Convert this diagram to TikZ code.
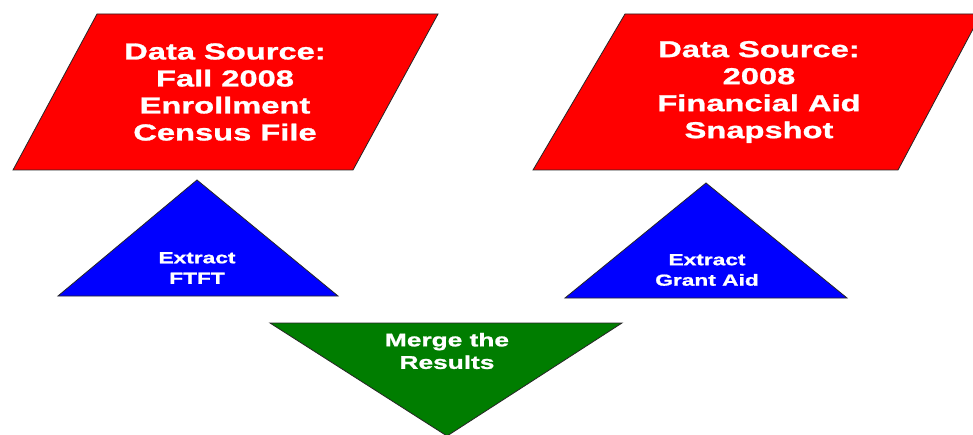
\documentclass[tikz,border=0pt]{standalone}
\usepackage{fontspec}
\newfontfamily\widesans{Liberation Sans}[FakeStretch=1.42,BoldFeatures={FakeBold=1.2}]
\begin{document}
\begin{tikzpicture}[x=1pt,y=-1pt,
  shapeline/.style={draw=black!85, line width=0.8pt, line join=miter},
  redfill/.style={shapeline, fill={rgb,255:red,255;green,0;blue,0}},
  bluefill/.style={shapeline, fill={rgb,255:red,0;green,0;blue,255}},
  greenfill/.style={shapeline, fill={rgb,255:red,0;green,125;blue,0}},
  lbl/.style={text=white, align=center, inner sep=0pt},
  bigtxt/.style={lbl, font=\widesans\bfseries\fontsize{23}{27}\selectfont},
  smalltxt/.style={lbl, font=\widesans\bfseries\fontsize{16}{20.5}\selectfont},
  midtxt/.style={lbl, font=\widesans\bfseries\fontsize{18.5}{22.5}\selectfont}]
\useasboundingbox (0,0) rectangle (973,435);
\clip (0,0) rectangle (973,435);
\fill[white] (0,0) rectangle (973,435);

% parallelograms
\draw[redfill] (97,14) -- (438,14) -- (353,170) -- (13,170) -- cycle;
\draw[redfill] (625,14) -- (981,14) -- (898,170) -- (533,170) -- cycle;

% triangles
\draw[bluefill] (197,180) -- (338,296) -- (58,296) -- cycle;
\draw[bluefill] (706,183) -- (847,298) -- (565,298) -- cycle;
\draw[greenfill] (270,323) -- (622,323) -- (447,436) -- cycle;

% labels
\node[bigtxt] (src1) at (225,92) {Data Source:\\Fall 2008\\Enrollment\\Census File};
\node[bigtxt] (src2) at (759,92) {Data Source:\\2008\\Financial Aid\\Snapshot};
\node[smalltxt] (ext1) at (197,268) {Extract\\FTFT};
\node[smalltxt] (ext2) at (707,270) {Extract\\Grant Aid};
\node[midtxt] (merge) at (447,351) {Merge the\\Results};
\end{tikzpicture}
\end{document}
